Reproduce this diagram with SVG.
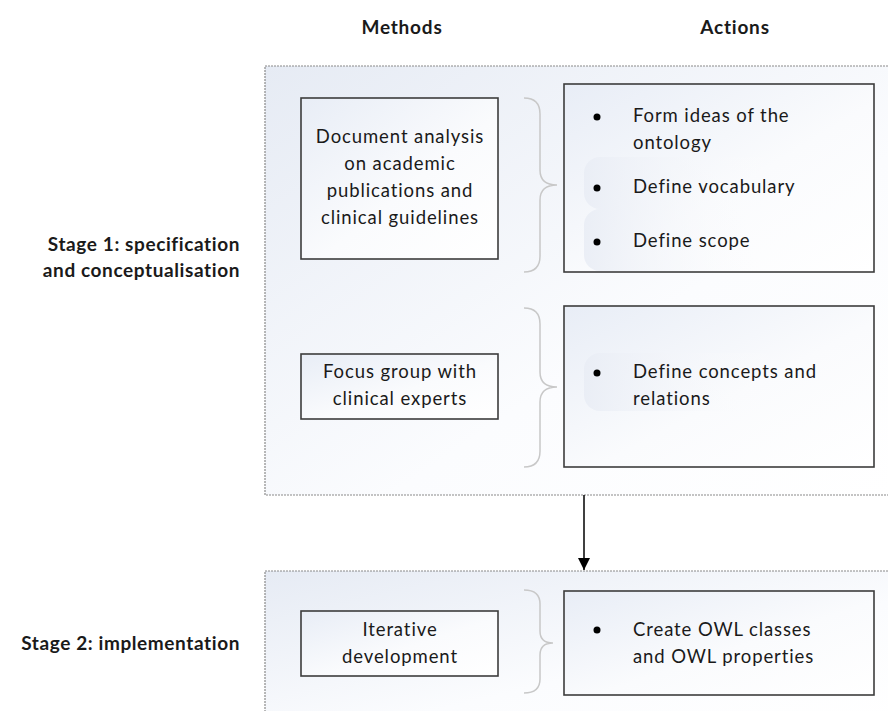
<svg xmlns="http://www.w3.org/2000/svg" width="888" height="711" viewBox="0 0 888 711">
<style>
text{font-family:Lato,"Open Sans","Liberation Sans",sans-serif;fill:#1a1a1a}
.hdr{font-size:19px;font-weight:bold;text-anchor:middle;letter-spacing:0.8px}
.stage{font-size:19px;font-weight:bold;text-anchor:end;letter-spacing:0.6px}
.m{font-size:18.5px;text-anchor:middle;letter-spacing:0.9px}
.a{font-size:18.5px;letter-spacing:0.9px}
.cont{fill:url(#gCont);stroke:#8a8a8a;stroke-width:1.2;stroke-dasharray:2 1}
.box{fill:url(#gBox);stroke:#3c3c3c;stroke-width:1.6}
.brace{fill:none;stroke:#c8c8c8;stroke-width:1.5}
.hl{fill:url(#gHl)}
.bul{fill:#000}
</style>
<defs>
<linearGradient id="gCont" x1="0" y1="0" x2="1" y2="1">
<stop offset="0" stop-color="#e6ebf4"/>
<stop offset="0.6" stop-color="#fbfcfe"/>
<stop offset="1" stop-color="#ffffff"/>
</linearGradient>
<linearGradient id="gBox" x1="0" y1="0" x2="1" y2="1">
<stop offset="0" stop-color="#e8edf6"/>
<stop offset="0.55" stop-color="#fafbfd"/>
<stop offset="1" stop-color="#ffffff"/>
</linearGradient>
<linearGradient id="gHl" x1="0" y1="0" x2="1" y2="0">
<stop offset="0" stop-color="#e9edf5" stop-opacity="0.9"/>
<stop offset="1" stop-color="#ffffff" stop-opacity="0"/>
</linearGradient>
<marker id="arr" markerWidth="14" markerHeight="14" refX="12" refY="6" orient="auto" markerUnits="userSpaceOnUse">
<path d="M0,0 L12,6 L0,12 Z" fill="#000"/>
</marker>
</defs>
<rect width="888" height="711" fill="#ffffff"/>

<g id="headers">
<text class="hdr" x="402" y="34">Methods</text>
<text class="hdr" x="735" y="34">Actions</text>
</g>

<g id="stage1">
<rect class="cont" x="265" y="66" width="630" height="429"/>
<text class="stage" x="240" y="251">Stage 1: specification</text>
<text class="stage" x="240" y="277">and conceptualisation</text>
</g>

<g id="stage2">
<rect class="cont" x="265" y="571" width="630" height="150"/>
<text class="stage" x="240" y="650">Stage 2: implementation</text>
</g>

<g id="method1">
<rect class="box" x="301" y="98" width="197" height="161"/>
<text class="m" x="400" y="143">Document analysis</text>
<text class="m" x="400" y="170">on academic</text>
<text class="m" x="400" y="197">publications and</text>
<text class="m" x="400" y="224">clinical guidelines</text>
</g>

<g id="action1">
<rect class="box" x="564" y="84" width="310" height="188"/>
<rect class="hl" x="584" y="157" width="200" height="52" rx="16"/>
<rect class="hl" x="584" y="209" width="200" height="62" rx="16"/>
<circle class="bul" cx="597" cy="117" r="3.5"/>
<text class="a" x="633" y="122">Form ideas of the</text>
<text class="a" x="633" y="149">ontology</text>
<circle class="bul" cx="597" cy="188" r="3.5"/>
<text class="a" x="633" y="193">Define vocabulary</text>
<circle class="bul" cx="597" cy="242" r="3.5"/>
<text class="a" x="633" y="247">Define scope</text>
</g>

<g id="method2">
<rect class="box" x="301" y="354" width="197" height="65"/>
<text class="m" x="400" y="378">Focus group with</text>
<text class="m" x="400" y="405">clinical experts</text>
</g>

<g id="action2">
<rect class="box" x="564" y="306" width="310" height="161"/>
<rect class="hl" x="584" y="353" width="200" height="58" rx="16"/>
<circle class="bul" cx="597" cy="373" r="3.5"/>
<text class="a" x="633" y="378">Define concepts and</text>
<text class="a" x="633" y="405">relations</text>
</g>

<g id="method3">
<rect class="box" x="301" y="611" width="197" height="65"/>
<text class="m" x="400" y="636">Iterative</text>
<text class="m" x="400" y="663">development</text>
</g>

<g id="action3">
<rect class="box" x="564" y="591" width="310" height="104"/>
<circle class="bul" cx="597" cy="630" r="3.5"/>
<text class="a" x="633" y="636">Create OWL classes</text>
<text class="a" x="633" y="663">and OWL properties</text>
</g>

<g id="connectors">
<path class="brace" d="M524,98 Q540,98 540,114 L540,170 Q540,185 557,185 Q540,185 540,200 L540,256 Q540,272 524,272"/>
<path class="brace" d="M524,308 Q540,308 540,324 L540,372 Q540,387 557,387 Q540,387 540,402 L540,451 Q540,467 524,467"/>
<path class="brace" d="M524,590 Q540,590 540,604 L540,631 Q540,643 553,643 Q540,643 540,655 L540,679 Q540,693 524,693"/>
<line x1="584" y1="495" x2="584" y2="570" stroke="#000" stroke-width="1.5" marker-end="url(#arr)"/>
</g>
</svg>
